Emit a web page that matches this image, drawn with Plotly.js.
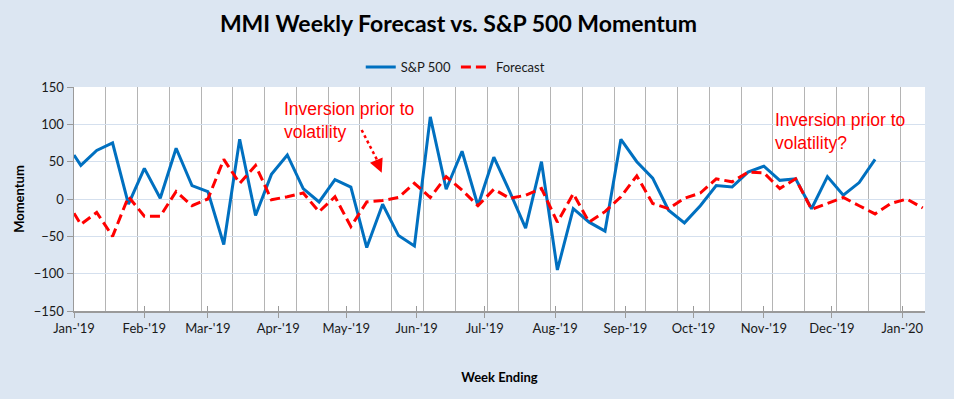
<!DOCTYPE html>
<html>
<head>
<meta charset="utf-8">
<script src="https://cdn.plot.ly/plotly-3.0.1.min.js"></script>
<style>
  html, body { margin: 0; padding: 0; background: #dce6f2; }
  #chart { width: 954px; height: 399px; }
</style>
</head>
<body>
<div id="chart"></div>
<script>
// Week-ending dates (first point is Jan 1, 2019, then Fridays)
const dates = [
  '2019-01-01','2019-01-04','2019-01-11','2019-01-18','2019-01-25',
  '2019-02-01','2019-02-08','2019-02-15','2019-02-22',
  '2019-03-01','2019-03-08','2019-03-15','2019-03-22','2019-03-29',
  '2019-04-05','2019-04-12','2019-04-19','2019-04-26',
  '2019-05-03','2019-05-10','2019-05-17','2019-05-24','2019-05-31',
  '2019-06-07','2019-06-14','2019-06-21','2019-06-28',
  '2019-07-05','2019-07-12','2019-07-19','2019-07-26',
  '2019-08-02','2019-08-09','2019-08-16','2019-08-23','2019-08-30',
  '2019-09-06','2019-09-13','2019-09-20','2019-09-27',
  '2019-10-04','2019-10-11','2019-10-18','2019-10-25',
  '2019-11-01','2019-11-08','2019-11-15','2019-11-22','2019-11-29',
  '2019-12-06','2019-12-13','2019-12-20','2019-12-27',
  '2020-01-03','2020-01-10'
];

// S&P 500 momentum (ends Dec 20, 2019)
const sp500 = [
  59, 45, 65, 75, -7,
  41, 1, 68, 18,
  10, -61, 80, -22, 33,
  59, 14, -4, 26,
  16, -65, -7, -49, -63,
  110, 13, 64, -9,
  56, 10, -39, 50,
  -95, -13, -31, -43, 80,
  50, 28, -15, -32,
  -9, 18, 16, 36,
  44, 25, 27, -13, 30,
  5, 22, 53
];

// MMI forecast
const forecast = [
  -19, -34, -18, -50, 3,
  -23, -23, 10, -9,
  0, 53, 21, 45, -1,
  3, 8, -17, 3,
  -37, -4, -2, 2, 21,
  2, 30, 12, -9,
  13, 1, 5, 14,
  -31, 7, -31, -17, 3,
  31, -6, -13, 1,
  8, 27, 23, 36,
  35, 14, 27, -14, -6,
  2, -9, -20, -6,
  0, -12
];

const seriesNames = ['S&P 500', 'Forecast'];
const titleText = 'MMI Weekly Forecast vs. S&P 500 Momentum';
const yTitle = 'Momentum';
const xTitle = 'Week Ending';
const note1 = 'Inversion prior to<br>volatility';
const note2 = 'Inversion prior to<br>volatility?';

const FONT = 'Lato, "Open Sans", sans-serif';
const NOTEFONT = '"Liberation Sans", Arial, sans-serif';

const traces = [
  {
    x: dates.slice(0, sp500.length), y: sp500, name: seriesNames[0],
    type: 'scatter', mode: 'lines',
    line: { color: '#0070c0', width: 3 }
  },
  {
    x: dates, y: forecast, name: seriesNames[1],
    type: 'scatter', mode: 'lines',
    line: { color: '#ff0000', width: 3, dash: '10px,5px' }
  }
];

const layout = {
  width: 954, height: 399,
  paper_bgcolor: '#dce6f2',
  plot_bgcolor: '#ffffff',
  margin: { l: 74, r: 29, t: 87, b: 88 },
  font: { family: FONT, size: 13, color: '#1a1a1a' },
  showlegend: true,
  title: {
    text: '<b>' + titleText + '</b>',
    font: { family: FONT, size: 23, color: '#000' },
    x: 0.4806, xanchor: 'center', xref: 'container',
    y: 0.94, yanchor: 'middle', yref: 'container'
  },
  legend: {
    orientation: 'h', x: 0.448, xanchor: 'center',
    y: 1.089, yanchor: 'middle',
    bgcolor: 'rgba(0,0,0,0)',
    font: { family: FONT, size: 13, color: '#1a1a1a' },
    itemwidth: 30, tracegroupgap: 0
  },
  xaxis: {
    type: 'date',
    range: ['2019-01-01', '2020-01-11'],
    tickmode: 'linear', tick0: '2019-01-01', dtick: 'M1',
    tickformat: "%b-'%y",
    ticks: 'outside', ticklen: 5, tickcolor: '#9a9a9a', tickwidth: 1,
    showgrid: false,
    minor: {
      tick0: '2019-01-01', dtick: 14 * 86400000,
      showgrid: true, gridcolor: '#b4b4b4', gridwidth: 1, ticks: ''
    },
    showline: true, linecolor: '#9a9a9a', linewidth: 1.5,
    zeroline: false,
    tickfont: { family: FONT, size: 13, color: '#1a1a1a' },
    title: { text: '<b>' + xTitle + '</b>', font: { family: FONT, size: 13, color: '#000' }, standoff: 38 }
  },
  xaxis2: {
    type: 'date', overlaying: 'x', matches: 'x',
    range: ['2019-01-01', '2020-01-11'],
    tickmode: 'linear', tick0: '2019-01-01', dtick: 'M1',
    ticks: 'inside', ticklen: 5, tickcolor: '#9a9a9a', tickwidth: 1,
    showticklabels: false, showgrid: false, showline: false, zeroline: false
  },
  yaxis: {
    range: [-150, 150], dtick: 50, tick0: 0,
    ticks: 'outside', ticklen: 6, tickcolor: '#9a9a9a', tickwidth: 1,
    showgrid: true, gridcolor: '#d5e0ee', gridwidth: 1,
    zeroline: false,
    showline: true, linecolor: '#9a9a9a', linewidth: 1.5,
    tickfont: { family: FONT, size: 13, color: '#1a1a1a' },
    title: { text: '<b>' + yTitle + '</b>', font: { family: FONT, size: 13, color: '#000' }, standoff: 6 }
  },
  shapes: [
    { type: 'line', xref: 'paper', yref: 'paper',
      x0: 0.338, y0: 0.808, x1: 0.357, y1: 0.668,
      line: { color: '#ff0000', width: 2.5, dash: 'dot' } }
  ],
  annotations: [
    { xref: 'paper', yref: 'paper', x: 0.2444, y: 0.852,
      xanchor: 'left', yanchor: 'middle', align: 'left',
      text: note1, showarrow: false,
      font: { family: NOTEFONT, size: 17.5, color: '#ff0000' } },
    { xref: 'paper', yref: 'paper', x: 0.3616, y: 0.617,
      text: '', showarrow: true, arrowhead: 2, arrowsize: 1.1, arrowwidth: 2.5,
      arrowcolor: '#ff0000', ax: -6, ay: -14, standoff: 0 },
    { xref: 'paper', yref: 'paper', x: 0.821, y: 0.8,
      xanchor: 'left', yanchor: 'middle', align: 'left',
      text: note2, showarrow: false,
      font: { family: NOTEFONT, size: 17.5, color: '#ff0000' } }
  ]
};

// an empty helper trace so that xaxis2 (crossing tick marks) is drawn
traces.push({ x: [dates[0]], y: [null], xaxis: 'x2', showlegend: false, hoverinfo: 'skip', mode: 'lines' });

Plotly.newPlot('chart', traces, layout, { displayModeBar: false, staticPlot: true });
</script>
</body>
</html>
